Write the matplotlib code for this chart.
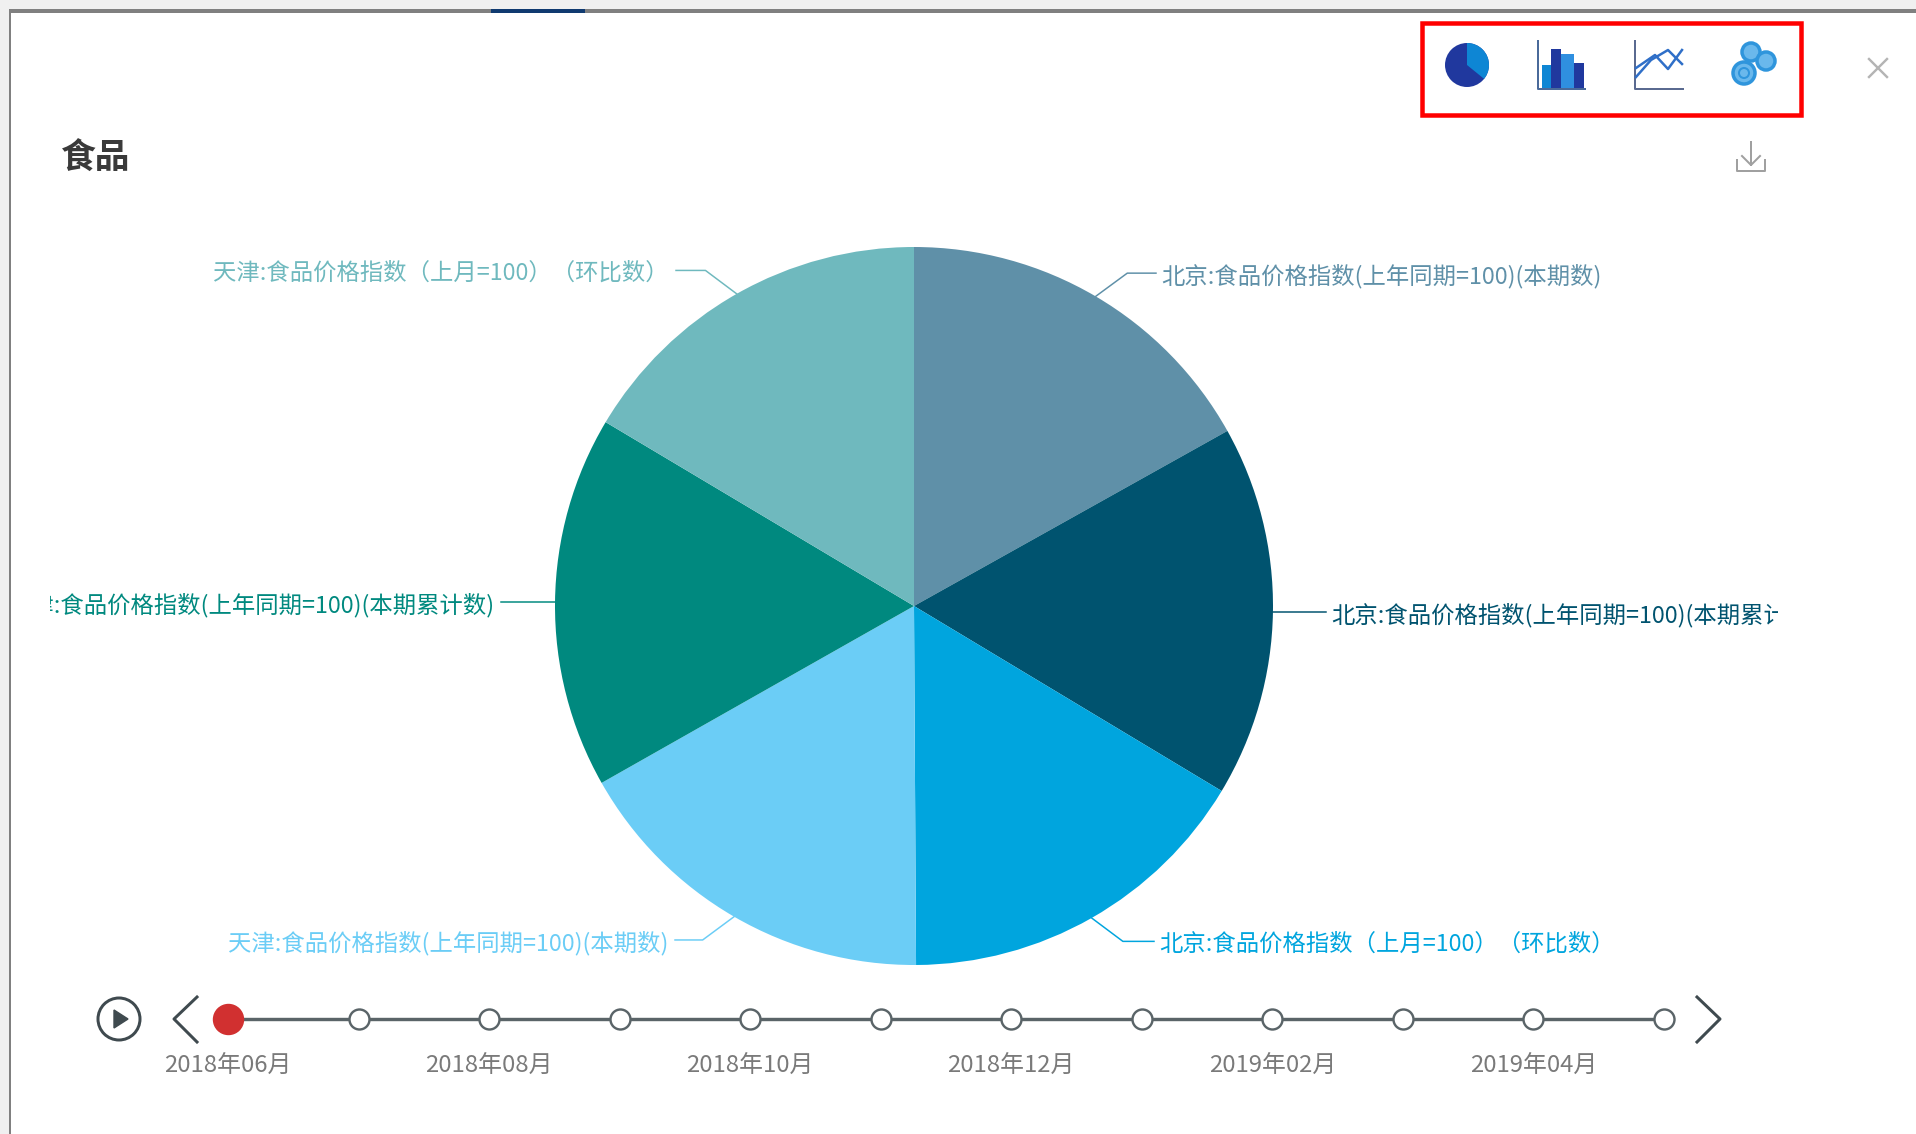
import matplotlib
matplotlib.use("Agg")
import numpy as np
import matplotlib.pyplot as plt
from matplotlib.patches import Rectangle, Circle, Wedge

plt.rcParams['font.family'] = ['Noto Sans CJK SC', 'DejaVu Sans']

title = "食品"
labels = ["北京:食品价格指数(上年同期=100)(本期数)",
          "北京:食品价格指数(上年同期=100)(本期累计数)",
          "北京:食品价格指数（上月=100）（环比数）",
          "天津:食品价格指数(上年同期=100)(本期数)",
          "天津:食品价格指数(上年同期=100)(本期累计数)",
          "天津:食品价格指数（上月=100）（环比数）"]
values = [101.8, 100.8, 98.2, 101.8, 101.0, 99.1]
colors = ["#5f90a8", "#00536f", "#00a5de", "#6bcdf6", "#00897f", "#6fb9be"]
months = ["2018年06月", "2018年07月", "2018年08月", "2018年09月", "2018年10月", "2018年11月",
          "2018年12月", "2019年01月", "2019年02月", "2019年03月", "2019年04月", "2019年05月"]

W, H = 1916, 1134
fig = plt.figure(figsize=(W / 100, H / 100), dpi=100, facecolor="white")
PX = 72 / 100  # points per pixel

# page chrome in pixel coordinates
bg = fig.add_axes([0, 0, 1, 1])
bg.set_xlim(0, W); bg.set_ylim(H, 0); bg.axis("off")
bg.add_patch(Rectangle((0, 0), W, 9, fc="#f0f0f0", ec="none"))
bg.add_patch(Rectangle((0, 0), 9, H, fc="#f0f0f0", ec="none"))
bg.add_patch(Rectangle((9, 9), W, 4, fc="#808080", ec="none"))
bg.add_patch(Rectangle((9, 9), 2, H, fc="#808080", ec="none"))
bg.add_patch(Rectangle((491, 9), 94, 4, fc="#103a70", ec="none"))
bg.text(61, 158, title, fontsize=25, fontweight="bold", color="#3a3a3a", va="center", ha="left")

# toolbar box
bg.add_patch(Rectangle((1422, 23), 379, 92, fc="none", ec="#ff0000", lw=4.5 * PX))
# pie icon (drawn with inverted y, so angles run clockwise from +x)
bg.add_patch(Circle((1467, 65), 22, fc="#20389e", ec="none"))
bg.add_patch(Wedge((1467, 65), 22, -90, 39, fc="#0e86d4", ec="none"))
# bar icon
bg.plot([1538, 1538, 1585], [41, 89, 89], color="#4a6a9a", lw=2 * PX)
for x0, x1, top, c in [(1542, 1551, 65, "#0e86d4"), (1551, 1561, 49, "#20389e"),
                       (1561, 1574, 54, "#2f8fe0"), (1574, 1584, 63, "#20389e")]:
    bg.add_patch(Rectangle((x0, top), x1 - x0, 88 - top, fc=c, ec="none"))
# line icon
bg.plot([1635, 1635, 1683], [41, 89, 89], color="#5a6a90", lw=2 * PX)
bg.plot([1636, 1655, 1668, 1682], [68, 55, 69, 50], color="#2f6fc8", lw=2.5 * PX)
bg.plot([1636, 1651, 1668, 1682], [77, 60, 50, 64], color="#2f6fc8", lw=2.5 * PX)
# gear icon
for cx, cy, r in [(1744, 73, 11), (1751, 52, 9), (1766, 61, 9)]:
    bg.add_patch(Circle((cx, cy), r, fc="#6ab8ec", ec="#2f95dc", lw=3.5 * PX))
bg.add_patch(Circle((1744, 73), 5, fc="none", ec="#2f95dc", lw=2 * PX))
# close
bg.plot([1869, 1887], [59, 77], color="#b4b4b4", lw=2.4 * PX)
bg.plot([1869, 1887], [77, 59], color="#b4b4b4", lw=2.4 * PX)
# download
bg.plot([1737, 1737, 1765, 1765], [160, 171, 171, 160], color="#a0a0a0", lw=2 * PX)
bg.plot([1751, 1751], [142, 165], color="#a0a0a0", lw=2 * PX)
bg.plot([1742, 1751, 1760], [156, 165, 156], color="#a0a0a0", lw=2 * PX)
# play + chevrons
bg.add_patch(Circle((119, 1019), 21, fc="white", ec="#3f4a4f", lw=3 * PX))
bg.fill([114, 114, 128], [1010, 1028, 1019], color="#3f4a4f")
bg.plot([197, 174, 197], [997, 1019, 1042], color="#3f4a4f", lw=3 * PX)
bg.plot([1697, 1720, 1697], [997, 1019, 1042], color="#3f4a4f", lw=3 * PX)

clip = Rectangle((50, 0), 1728, H, transform=bg.transData, fc="none", ec="none")
bg.add_patch(clip)

# pie
CX, CY, R = 914, 606, 359
ax = fig.add_axes([(CX - R) / W, 1 - (CY + R) / H, 2 * R / W, 2 * R / H])
wedges, _ = ax.pie(values, colors=colors, startangle=90, counterclock=False, radius=1,
                   wedgeprops=dict(linewidth=0))
ax.set_xlim(-1, 1); ax.set_ylim(-1, 1); ax.set_aspect("equal")
ax.patch.set_alpha(0)

# leader ends and label anchors follow the reference layout (pixels on x)
leader_end_x = [1156, 1326, 1154, 675, 501, 676]
for w, lab, c, xe in zip(wedges, labels, colors, leader_end_x):
    mid = np.deg2rad((w.theta1 + w.theta2) / 2)
    px, py = np.cos(mid), np.sin(mid)
    right = px > 0
    sign = 1 if right else -1
    if abs(py) < 0.1:
        ex, ey = 1.02 * px, py
    else:
        ex, ey = 1.085 * px + sign * 0.045, 1.075 * py
    xe_d = (xe - CX) / R
    ax.plot([px, ex, xe_d], [py, ey, ey], color=c, lw=1.5 * PX, clip_on=False, zorder=1)
    gap = 5 if right else 7
    t = ax.text(xe_d + sign * gap / R, ey - 3 / R, lab,
                color=c, fontsize=16.8, ha="left" if right else "right", va="center",
                fontweight="light", clip_on=True)
    t.set_clip_path(clip)

# timeline
tl = fig.add_axes([228 / W, 1 - 1019 / H, (1664 - 228) / W, 1 / H])
tl.set_xlim(0, len(months) - 1); tl.set_ylim(-0.5, 0.5); tl.axis("off")
idx = np.arange(len(months))
tl.plot(idx, np.zeros_like(idx), color="#5a6468", lw=3.4 * PX, clip_on=False, zorder=1)
tl.scatter(idx[1:], np.zeros(len(idx) - 1), s=(20 * PX) ** 2, facecolor="white",
           edgecolor="#5a6468", linewidth=2.4 * PX, clip_on=False, zorder=2)
tl.scatter(idx[:1], [0], s=(30 * PX) ** 2, color="#d13030", clip_on=False, zorder=3)
for i in idx[::2]:
    tl.annotate(months[i], (i, 0), xytext=(0, -47.5 * PX), textcoords="offset points",
                ha="center", va="center", fontsize=17.2, color="#7a7a7a", fontweight="light",
                annotation_clip=False)

fig.savefig("out.png", dpi=100, facecolor="white")
